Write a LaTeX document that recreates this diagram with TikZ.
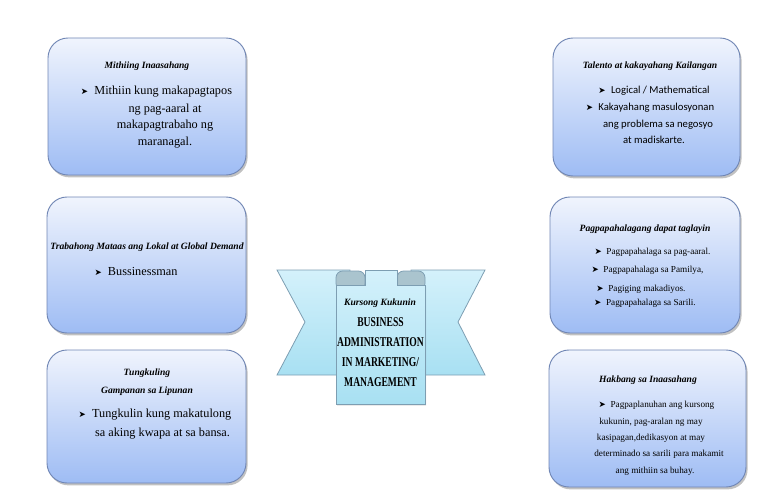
\documentclass[tikz,border=0pt]{standalone}
\usepackage{fontspec}
\setmainfont{Liberation Serif}
\newfontfamily\carl{Carlito}
\newfontfamily\djs{DejaVu Sans}
\usetikzlibrary{shadows}
\definecolor{cardtop}{RGB}{240,244,253}
\definecolor{cardbot}{RGB}{158,188,244}
\definecolor{cardline}{RGB}{112,134,180}
\definecolor{ribtop}{RGB}{212,241,251}
\definecolor{ribbot}{RGB}{168,224,242}
\definecolor{ribline}{RGB}{125,158,178}
\definecolor{ribfold}{RGB}{170,196,206}
\tikzset{
  card/.style={rounded corners=15pt, draw=cardline, line width=0.7pt,
    top color=cardtop, bottom color=cardbot,
    drop shadow={shadow xshift=1.2pt, shadow yshift=-1.8pt, opacity=0.35, fill=black!70}},
  ttl/.style={font=\bfseries\itshape\fontsize{7.2}{8}\selectfont, inner sep=0pt, anchor=mid},
  bodyA/.style={font=\fontsize{9.2}{10}\selectfont, inner sep=0pt, anchor=mid},
  bodyB/.style={font=\carl\fontsize{8}{9}\selectfont, inner sep=0pt, anchor=mid},
  bodyC/.style={font=\fontsize{6.9}{8}\selectfont, inner sep=0pt, anchor=mid},
  big/.style={font=\bfseries\fontsize{7.2}{8}\selectfont, inner sep=0pt, anchor=mid},
  ribbon/.style={draw=ribline, line width=0.6pt, top color=ribtop, bottom color=ribbot},
}
\newcommand{\bul}{{\djs\fontsize{6.5}{6.5}\selectfont ➤}\hspace{0.5em}}
\begin{document}
\begin{tikzpicture}[x=0.75pt, y=-0.75pt]
\useasboundingbox (0,0) rectangle (768,503);
% cards
\node[card, minimum width=148.5pt, minimum height=102.75pt] (lt) at (147,106.5) {};
\node[card, minimum width=149.25pt, minimum height=102pt] (lm) at (146.5,265) {};
\node[card, minimum width=149.25pt, minimum height=99.75pt] (lb) at (146.5,416.5) {};
\node[card, minimum width=140.25pt, minimum height=103.5pt] (rt) at (646.5,107) {};
\node[card, minimum width=142.5pt, minimum height=102pt] (rm) at (645,265) {};
\node[card, minimum width=147.75pt, minimum height=102.75pt] (rb) at (647.5,418.5) {};
% ribbon tails
\path[ribbon] (277,270) -- (350,270) -- (350,375) -- (277,375) -- (305,322) -- cycle;
\path[ribbon] (485,270) -- (411,270) -- (411,375) -- (485,375) -- (458,322) -- cycle;
% folds
\path[draw=ribline, line width=0.6pt, fill=ribfold, rounded corners=5pt] (336,290) -- (336,271) -- (365,271) -- (365,290) -- cycle;
\path[draw=ribline, line width=0.6pt, fill=ribfold, rounded corners=5pt] (397,290) -- (397,271) -- (425,271) -- (425,290) -- cycle;
% panel
\path[ribbon, drop shadow={shadow xshift=0.8pt, shadow yshift=-1.2pt, opacity=0.25}] (336,404) -- (336,285) -- (365,285) -- (365,270) -- (397,270) -- (397,285) -- (425,285) -- (425,404) -- cycle;
% left top
\node[ttl] (lt0) at (147,65) {Mithiing Inaasahang};
\node[bodyA] (lt1) at (156.5,91) {\bul Mithiin kung makapagtapos};
\node[bodyA] (lt2) at (165,109) {ng pag-aaral at};
\node[bodyA] (lt3) at (165,125) {makapagtrabaho ng};
\node[bodyA] (lt4) at (165,142) {maranagal.};
% left middle
\node[ttl] (lm0) at (147,246) {Trabahong Mataas ang Lokal at Global Demand};
\node[bodyA] (lm1) at (136,272) {\bul Bussinessman};
% left bottom
\node[ttl] (lb0) at (147,372) {Tungkuling};
\node[ttl] (lb1) at (147,390) {Gampanan sa Lipunan};
\node[bodyA] (lb2) at (155,414) {\bul Tungkulin kung makatulong};
\node[bodyA] (lb3) at (162.5,433) {sa aking kwapa at sa bansa.};
% right top
\node[ttl] (rt0) at (650,65) {Talento at kakayahang Kailangan};
\node[bodyB] (rt1) at (654,90) {\bul Logical / Mathematical};
\node[bodyB] (rt2) at (650,107) {\bul Kakayahang masulosyonan};
\node[bodyB] (rt3) at (658,124) {ang problema sa negosyo};
\node[bodyB] (rt4) at (654,140) {at madiskarte.};
% right middle
\node[ttl] (rm0) at (645,228) {Pagpapahalagang dapat taglayin};
\node[bodyC] (rm1) at (652.5,251) {\bul Pagpapahalaga sa pag-aaral.};
\node[bodyC] (rm2) at (647.5,269) {\bul Pagpapahalaga sa Pamilya,};
\node[bodyC] (rm3) at (641,288) {\bul Pagiging makadiyos.};
\node[bodyC] (rm4) at (645,302) {\bul Pagpapahalaga sa Sarili.};
% right bottom
\node[ttl] (rb0) at (648,379) {Hakbang sa Inaasahang};
\node[bodyC] (rb1) at (656.5,404) {\bul Pagpaplanuhan ang kursong};
\node[bodyC] (rb2) at (651,421) {kukunin, pag-aralan ng may};
\node[bodyC] (rb3) at (651,437) {kasipagan,dedikasyon at may};
\node[bodyC] (rb4) at (659,453) {determinado sa sarili para makamit};
\node[bodyC] (rb5) at (655,470) {ang mithiin sa buhay.};
% center
\node[ttl] (c0) at (380,302) {Kursong Kukunin};
\node[big] (c1) at (380.5,323) {\scalebox{1}[1.4]{BUSINESS}};
\node[big] (c2) at (380.5,343) {\scalebox{1}[1.4]{ADMINISTRATION}};
\node[big] (c3) at (380.5,363) {\scalebox{1}[1.4]{IN MARKETING/}};
\node[big] (c4) at (380.5,383) {\scalebox{1}[1.4]{MANAGEMENT}};
\end{tikzpicture}
\end{document}
